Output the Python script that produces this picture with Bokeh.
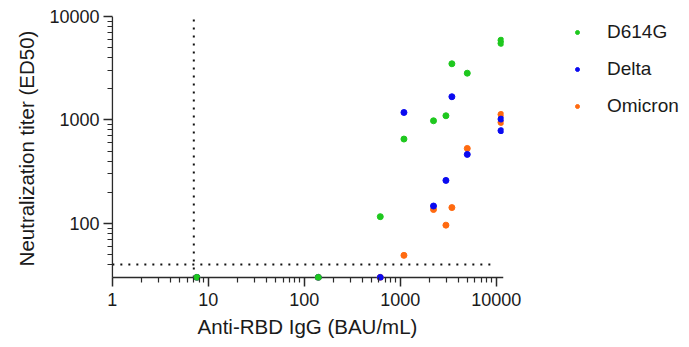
from bokeh.plotting import figure
from bokeh.models import (ColumnDataSource, FixedTicker, NumeralTickFormatter,
                          Legend, LegendItem, Range1d)
from bokeh.embed import file_html
from bokeh.resources import INLINE

# Data
anti_rbd_igg = [7.6, 140, 619, 1092, 2220, 2990, 3450, 4990, 11200, 11200]
d614g = [30, 30, 116, 653, 981, 1097, 3490, 2830, 5900, 5500]
delta = [30, 30, 30, 1180, 147, 260, 1675, 464, 1018, 787]
omicron = [30, 30, 30, 49, 136, 96, 142, 530, 1130, 946]

titer_threshold = 40
igg_threshold = 7.06
x_ticks = [1, 10, 100, 1000, 10000]
y_ticks = [100, 1000, 10000]
x_axis_at = 30      # titer value where the x axis sits
y_axis_at = 1       # IgG value where the y axis sits
y_top = 10000
x_right = 11900

FONT = "Liberation Sans"
AXIS_COLOR = "#2a2a2a"

p = figure(x_axis_type="log", y_axis_type="log",
           x_range=Range1d(0.98, x_right), y_range=Range1d(28, y_top),
           frame_width=392, frame_height=264,
           min_border_left=111, min_border_top=16, min_border_right=186, min_border_bottom=67,
           output_backend="svg", toolbar_location=None)
p.outline_line_color = None
p.grid.visible = False
p.background_fill_color = "white"

src = ColumnDataSource(dict(x=anti_rbd_igg, d614g=d614g, delta=delta, omicron=omicron))

# reference lines
p.segment(x0=[igg_threshold], y0=[x_axis_at], x1=[igg_threshold], y1=[y_top],
          line_color="#111111", line_width=2, line_dash="2 6")
p.segment(x0=[x_ticks[0]], y0=[titer_threshold], x1=[x_ticks[-1]], y1=[titer_threshold],
          line_color="#111111", line_width=2, line_dash="2 6")
# axis lines drawn in data space so they meet at (1, 30)
p.segment(x0=[y_axis_at], y0=[x_axis_at], x1=[y_axis_at], y1=[y_top],
          line_color=AXIS_COLOR, line_width=1.5)
p.segment(x0=[y_axis_at], y0=[x_axis_at], x1=[x_right], y1=[x_axis_at],
          line_color=AXIS_COLOR, line_width=1.5)

r_om = p.scatter("x", "omicron", source=src, size=6, color="#FF6A10")
r_de = p.scatter("x", "delta", source=src, size=6, color="#0A0AF0")
r_d6 = p.scatter("x", "d614g", source=src, size=6, color="#1EC81E")

for ax in (p.xaxis[0], p.yaxis[0]):
    ax.axis_line_color = None
    ax.major_tick_line_color = AXIS_COLOR
    ax.minor_tick_line_color = AXIS_COLOR
    ax.major_tick_line_width = 1.5
    ax.minor_tick_line_width = 1.2
    ax.major_label_text_font = FONT
    ax.major_label_text_font_size = "18px"
    ax.major_label_text_color = "#1a1a1a"
    ax.axis_label_text_font = FONT
    ax.axis_label_text_font_size = "20.5px"
    ax.axis_label_text_font_style = "normal"
    ax.axis_label_text_color = "#1a1a1a"
    ax.formatter = NumeralTickFormatter(format="0")

# x axis line sits 3px above the frame edge: ticks start inside the frame
p.xaxis[0].major_tick_in = 3
p.xaxis[0].major_tick_out = 6
p.xaxis[0].minor_tick_in = 3
p.xaxis[0].minor_tick_out = 2
# y axis line sits ~1px right of the frame edge
p.yaxis[0].major_tick_in = 1
p.yaxis[0].major_tick_out = 8
p.yaxis[0].minor_tick_in = 1
p.yaxis[0].minor_tick_out = 4

x_minor = [m * d for d in [1, 10, 100, 1000] for m in range(2, 10)]
y_minor = [m * 10 for m in range(4, 10)] + [m * d for d in [100, 1000] for m in range(2, 10)]
p.xaxis[0].ticker = FixedTicker(ticks=x_ticks, minor_ticks=x_minor)
p.yaxis[0].ticker = FixedTicker(ticks=y_ticks, minor_ticks=y_minor)
p.xaxis[0].axis_label = "Anti-RBD IgG (BAU/mL)"
p.yaxis[0].axis_label = "Neutralization titer (ED50)"
p.xaxis[0].major_label_standoff = 6
p.yaxis[0].major_label_standoff = 4
p.xaxis[0].axis_label_standoff = 6
p.yaxis[0].axis_label_standoff = 8

legend = Legend(items=[LegendItem(label="D614G", renderers=[r_d6]),
                       LegendItem(label="Delta", renderers=[r_de]),
                       LegendItem(label="Omicron", renderers=[r_om])],
                location=(69, 163), padding=0, margin=0, spacing=15,
                glyph_width=10, glyph_height=20, label_height=20, label_standoff=25,
                label_text_font=FONT, label_text_font_size="19px", label_text_color="#1a1a1a",
                border_line_color=None, background_fill_alpha=0)
p.add_layout(legend, "right")

open("out.html", "w").write(file_html(p, INLINE))
